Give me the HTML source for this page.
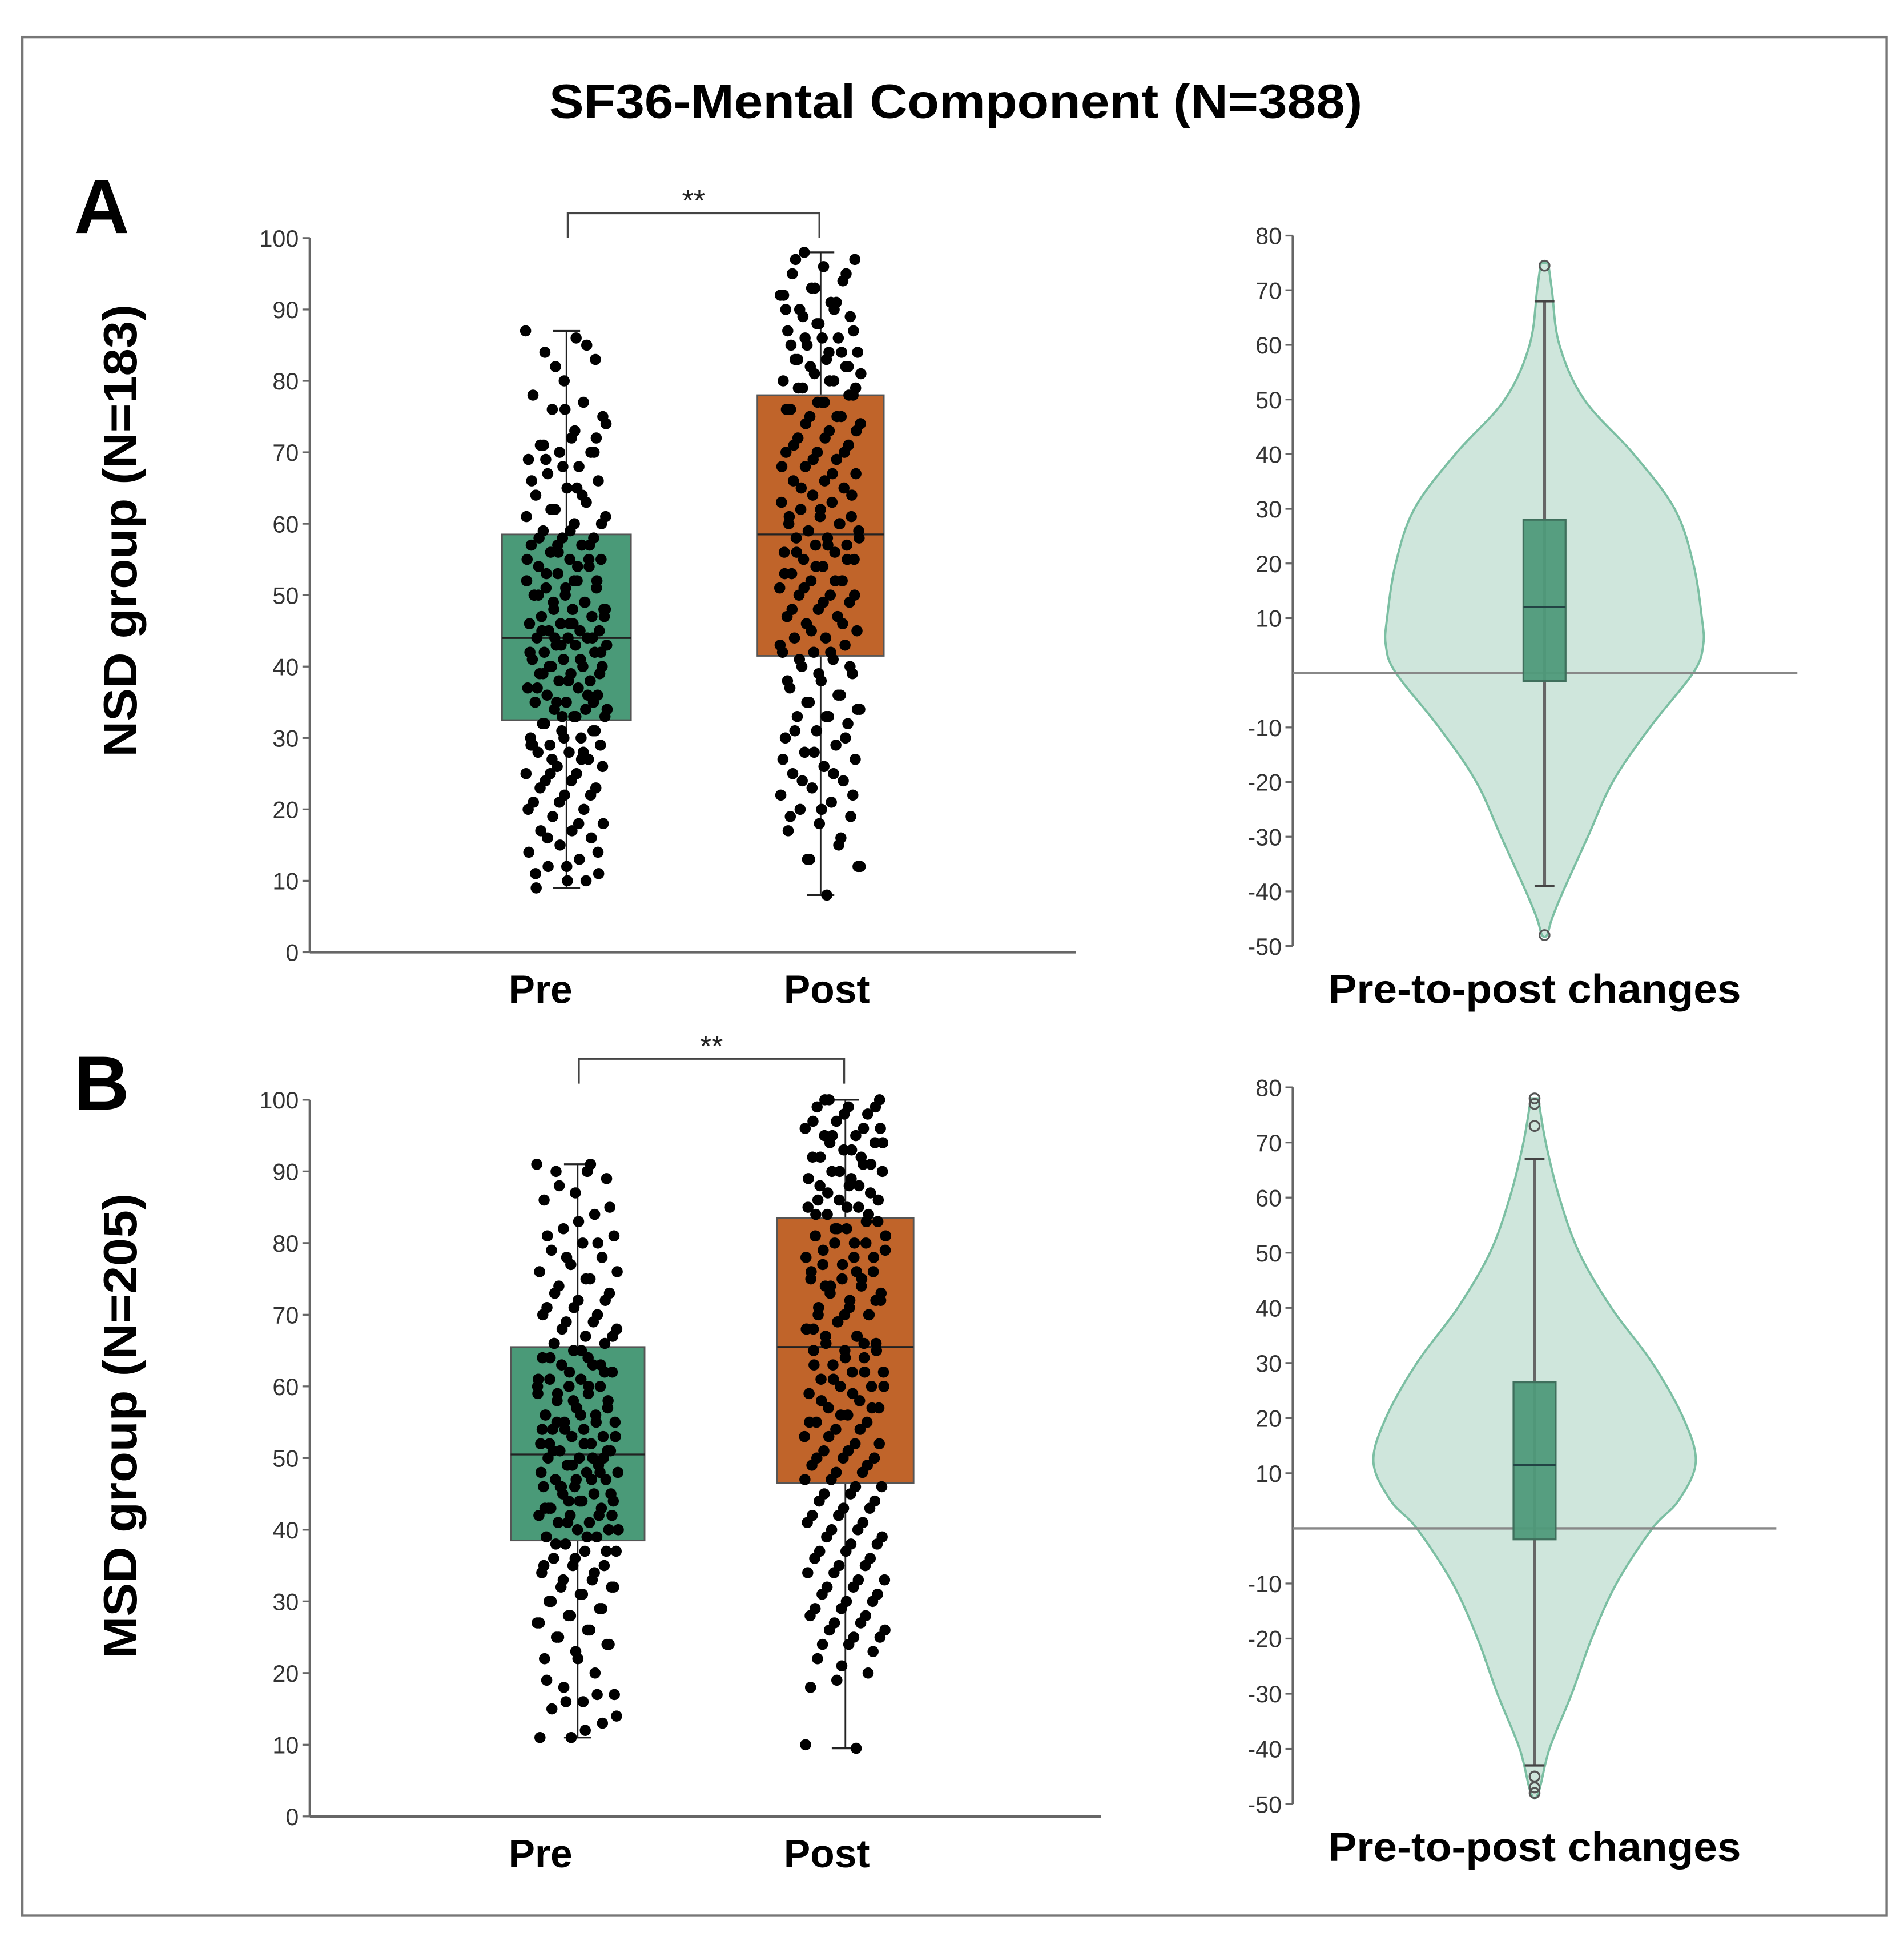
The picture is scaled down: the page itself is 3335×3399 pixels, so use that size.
<!DOCTYPE html>
<html><head><meta charset="utf-8"><style>
html,body{margin:0;padding:0;background:#fff;}
svg{display:block;}
text{font-family:"Liberation Sans",Arial,sans-serif;}
</style></head><body>
<svg id="chart" width="3335" height="3399" viewBox="0 0 1536 1565.5" xmlns="http://www.w3.org/2000/svg">
<rect x="18" y="30" width="1504" height="1515" fill="#fff" stroke="#777" stroke-width="2"/>
<text x="771" y="95" text-anchor="middle" font-size="39" font-weight="bold" textLength="656" lengthAdjust="spacingAndGlyphs">SF36-Mental Component (N=388)</text>
<text x="82" y="188" text-anchor="middle" font-size="62" font-weight="bold">A</text>
<text x="82" y="895" text-anchor="middle" font-size="62" font-weight="bold">B</text>
<g id="layer"></g>
</svg>
<script>
// ---- data ----
const boxCategories = ["Pre","Post"];
const boxTicks = [0,10,20,30,40,50,60,70,80,90,100];
const violinTicks = [-50,-40,-30,-20,-10,10,20,30,40,50,60,70,80];
// stats: [min, q1, median, q3, max]
const nsdPreStats = [9, 32.5, 44, 58.5, 87];
const nsdPostStats = [8, 41.5, 58.5, 78, 98];
const msdPreStats = [11, 38.5, 50.5, 65.5, 91];
const msdPostStats = [9.5, 46.5, 65.5, 83.5, 100];
const nsdChangeStats = [-39, -1.5, 12, 28, 68];
const msdChangeStats = [-43, -2, 11.5, 26.5, 67];
const nsdChangeOutliers = [74.5, -48];
const msdChangeOutliers = [78, 77, 73, -45, -47, -48];
const nsdDensityY = [75,70,60,50,40,30,20,10,5,0,-10,-20,-30,-40,-45,-48];
const nsdDensityW = [3,6,12,32,72,105,120,127,128,120,85,55,35,15,6,2];
const msdDensityY = [78,70,60,50,40,30,20,12,5,0,-10,-20,-30,-40,-48];
const msdDensityW = [3,9,20,36,62,95,120,130,116,95,66,46,30,12,3];
const nsdPre = [87,86,84,83,80,78,77,76,75,72,71,70,70,69,68,67,66,65,64,63,62,61,60,59,58,58,57,57,56,55,55,54,54,53,52,52,51,51,50,50,49,49,48,48,47,47,46,46,45,45,45,44,44,44,43,43,43,42,42,41,41,40,40,40,39,39,38,38,37,37,36,36,35,35,34,34,33,33,32,31,31,30,30,29,29,28,28,27,26,25,25,24,23,22,21,20,19,18,17,17,16,15,14,13,12,11,10,9,
 85,82,74,73,71,70,68,66,64,62,60,59,58,57,56,55,54,53,52,51,50,49,48,47,46,45,44,43,42,41,40,39,38,37,36,35,34,33,32,31,30,29,28,27,26,24,23,22,21,20,18,16,14,12,11,10,44,48,52,39,35,33,29,27,25,42,46,50,55,57,61,65,69,72,76];
const nsdPost = [98,97,96,95,94,93,92,91,90,89,88,87,86,85,84,83,83,82,81,80,80,79,78,77,76,75,75,74,73,72,71,70,70,69,68,67,66,66,65,64,63,63,62,61,61,60,60,59,59,58,58,57,57,56,56,55,55,54,53,52,52,51,50,50,49,48,47,47,46,45,44,44,43,42,42,41,40,39,38,37,36,35,34,33,33,32,31,30,29,28,27,26,25,24,23,22,21,20,19,18,17,15,13,12,8,
 97,95,93,92,90,89,87,86,85,84,82,81,80,79,78,77,76,75,74,73,72,71,70,69,68,67,65,64,62,61,60,59,58,57,56,55,54,53,52,51,50,49,48,46,45,43,42,41,40,39,38,36,35,34,33,31,30,28,27,25,24,22,20,19,16,13,12,84,83,82,88,90,91,86,79,77];
const msdPre = [91,90,90,89,87,86,84,82,81,80,79,78,77,76,75,74,73,72,71,70,69,68,67,66,66,65,64,63,63,62,61,61,60,60,59,59,58,57,57,56,56,55,55,54,54,53,53,52,52,51,51,50,50,49,49,48,48,47,47,46,46,45,45,44,44,43,43,42,42,41,41,40,40,39,39,38,37,37,36,35,35,34,33,32,32,31,30,29,28,27,26,25,24,23,22,20,18,17,16,15,13,11,11,
 91,88,85,83,81,80,78,76,75,73,72,71,70,69,68,67,65,64,63,62,61,60,59,58,57,56,55,54,53,52,51,50,49,48,47,46,45,44,43,42,41,40,39,38,37,36,35,34,33,32,31,30,29,28,27,26,25,24,22,19,17,16,14,12,66,62,58,54,50,46,42,56,52,48,44,60,64,55,51,47,43];
const msdPost = [100,100,99,99,98,97,96,95,95,94,93,92,91,90,90,89,88,87,86,85,85,84,83,82,81,80,80,79,78,77,76,75,75,74,73,72,71,70,70,69,68,67,67,66,65,65,64,63,62,62,61,60,60,59,58,57,57,56,55,55,54,53,52,51,50,50,49,48,47,46,45,44,43,42,41,40,39,38,37,36,35,34,33,32,31,30,29,28,27,26,25,24,22,20,19,10,9.5,
 100,99,98,97,96,95,94,93,92,91,90,89,88,87,86,85,84,83,82,81,80,79,78,77,76,75,74,73,72,71,70,69,68,67,66,65,64,63,62,61,60,59,58,57,56,55,54,53,52,51,50,49,48,47,46,45,44,43,42,41,40,39,38,37,36,35,34,33,32,31,30,29,28,27,26,25,24,23,21,18,92,94,96,88,86,84,82,78,76,74,72,70,68,66];

// ---- drawing ----
const NS = "http://www.w3.org/2000/svg";
const layer = document.getElementById('layer');
function mk(tag, attrs, parent){
  const e = document.createElementNS(NS, tag);
  for (const k in attrs) e.setAttribute(k, attrs[k]);
  (parent||layer).appendChild(e);
  return e;
}
function linScale(d0,d1,r0,r1){return v=>r0+(v-d0)*(r1-r0)/(d1-d0);}

function boxPanel(cfg){
  const y = linScale(0,100,cfg.y0,cfg.y100);
  const g = mk('g',{});
  
  
  const ax = mk('line',{x1:cfg.ax,y1:cfg.y100,x2:cfg.ax,y2:cfg.y0,stroke:'#666','stroke-width':2},g);
  
  
  const xa = mk('line',{x1:cfg.ax,y1:cfg.y0,x2:cfg.axEnd,y2:cfg.y0,stroke:'#666','stroke-width':2},g);
  
  
  boxTicks.forEach(t=>{
    mk('line',{x1:cfg.ax-6,y1:y(t),x2:cfg.ax,y2:y(t),stroke:'#666','stroke-width':1.5},g);
    const tl = mk('text',{x:cfg.ax-9,y:y(t)+7,'text-anchor':'end','font-size':19,fill:'#333'},g);
    tl.textContent = t;
    
    
  });
  const series = [[cfg.preStats,cfg.preVals,cfg.cx[0],cfg.hw[0],'#4a9a78'],[cfg.postStats,cfg.postVals,cfg.cx[1],cfg.hw[1],'#c0642a']];
  series.forEach((s,si)=>{
    const [st,vals,cx,hw,col]=s;
    mk('line',{x1:cx,y1:y(st[0]),x2:cx,y2:y(st[4]),stroke:'#222','stroke-width':1.3},g);
    mk('line',{x1:cx-11,y1:y(st[0]),x2:cx+11,y2:y(st[0]),stroke:'#222','stroke-width':1.5},g);
    mk('line',{x1:cx-11,y1:y(st[4]),x2:cx+11,y2:y(st[4]),stroke:'#222','stroke-width':1.5},g);
    const b = mk('rect',{x:cx-hw,y:y(st[3]),width:2*hw,height:y(st[1])-y(st[3]),fill:col,stroke:'#555','stroke-width':1.3},g);
    
    
    mk('line',{x1:cx-hw,y1:y(st[2]),x2:cx+hw,y2:y(st[2]),stroke:'#222','stroke-width':1.5},g);
    vals.forEach((v,i)=>{
      const off = (((i*0.618034+si*0.3)%1)-0.5)*66;
      const d = mk('circle',{cx:cx+off,cy:y(v),r:4.5,fill:'#000'},g);
      
      
    });
    const xl = mk('text',{x:cfg.labX[si],y:cfg.y0+41,'text-anchor':'middle','font-size':32,'font-weight':'bold'},g);
    xl.textContent = boxCategories[si];
    
    
  });
  const br = mk('path',{d:`M${cfg.cx[0]+1},${cfg.brY+20} V${cfg.brY} H${cfg.cx[1]-1} V${cfg.brY+20}`,fill:'none',stroke:'#444','stroke-width':1.5},g);
  
  
  const st = mk('text',{x:(cfg.cx[0]+cfg.cx[1])/2,y:cfg.brY-2,'text-anchor':'middle','font-size':24,fill:'#222'},g);
  st.textContent='**';
  
  
  const yl = mk('text',{x:0,y:0,'text-anchor':'middle','font-size':38,'font-weight':'bold',textLength:cfg.ylLen,lengthAdjust:'spacingAndGlyphs',transform:`translate(110,${cfg.ylY}) rotate(-90)`},g);
  yl.textContent = cfg.ylabel;
  
  
}

function violinPanel(cfg){
  const y = linScale(-50,80,cfg.yMin,cfg.yMax);
  const g = mk('g',{});
  
  
  const ax = mk('line',{x1:cfg.ax,y1:cfg.yMax,x2:cfg.ax,y2:cfg.yMin,stroke:'#666','stroke-width':2},g);
  
  
  violinTicks.forEach(t=>{
    mk('line',{x1:cfg.ax-6,y1:y(t),x2:cfg.ax,y2:y(t),stroke:'#666','stroke-width':1.5},g);
    const tl = mk('text',{x:cfg.ax-9,y:y(t)+7,'text-anchor':'end','font-size':19,fill:'#333'},g);
    tl.textContent = t;
    
    
  });
  const cx = cfg.cx;
  let pts = cfg.dy.map((v,i)=>[cx+cfg.dw[i],y(v)]);
  let left = cfg.dy.map((v,i)=>[cx-cfg.dw[i],y(v)]).reverse();
  const all = pts.concat(left);
  function smooth(p){
    let d=`M${p[0][0]},${p[0][1]}`;
    for(let i=0;i<p.length-1;i++){
      const p0=p[Math.max(i-1,0)],p1=p[i],p2=p[i+1],p3=p[Math.min(i+2,p.length-1)];
      d+=` C${p1[0]+(p2[0]-p0[0])/6},${p1[1]+(p2[1]-p0[1])/6} ${p2[0]-(p3[0]-p1[0])/6},${p2[1]-(p3[1]-p1[1])/6} ${p2[0]},${p2[1]}`;
    }
    return d+'Z';
  }
  const vp = mk('path',{d:smooth(all),fill:'#cfe6dc',stroke:'#7cbfa3','stroke-width':1.8},g);
  
  
  const z = mk('line',{x1:cfg.ax,y1:y(0),x2:cfg.zEnd,y2:y(0),stroke:'#888','stroke-width':2},g);
  
  
  const st = cfg.stats;
  mk('line',{x1:cx,y1:y(st[0]),x2:cx,y2:y(st[4]),stroke:'#666','stroke-width':2.5},g);
  mk('line',{x1:cx-8,y1:y(st[0]),x2:cx+8,y2:y(st[0]),stroke:'#444','stroke-width':2},g);
  mk('line',{x1:cx-8,y1:y(st[4]),x2:cx+8,y2:y(st[4]),stroke:'#444','stroke-width':2},g);
  const b = mk('rect',{x:cx-17,y:y(st[3]),width:34,height:y(st[1])-y(st[3]),fill:'#4f9a7a',stroke:'#3f6f5c','stroke-width':1.5,'fill-opacity':0.95},g);
  
  
  mk('line',{x1:cx-17,y1:y(st[2]),x2:cx+17,y2:y(st[2]),stroke:'#244','stroke-width':1.5},g);
  cfg.outliers.forEach(o=>{
    const c = mk('circle',{cx:cx,cy:y(o),r:4,fill:'none',stroke:'#555','stroke-width':1.5},g);
    
    
  });
  const xl = mk('text',{x:1238,y:cfg.yMin+46,'text-anchor':'middle','font-size':33,'font-weight':'bold',textLength:333,lengthAdjust:'spacingAndGlyphs'},g);
  xl.textContent='Pre-to-post changes';
  
  
}

boxPanel({name:'nsd-boxplot',ax:250,axEnd:868,y0:768,y100:192,cx:[457,662],hw:[52,51],labX:[436,667],
  preStats:nsdPreStats,postStats:nsdPostStats,preVals:nsdPre,postVals:nsdPost,brY:172,ylabel:'NSD group (N=183)',ylY:428,ylLen:365});
boxPanel({name:'msd-boxplot',ax:250,axEnd:888,y0:1465,y100:887,cx:[466,682],hw:[54,55],labX:[436,667],
  preStats:msdPreStats,postStats:msdPostStats,preVals:msdPre,postVals:msdPost,brY:854,ylabel:'MSD group (N=205)',ylY:1150,ylLen:375});
violinPanel({name:'nsd-violin',ax:1043,yMax:190,yMin:763,cx:1246,zEnd:1450,stats:nsdChangeStats,outliers:nsdChangeOutliers,dy:nsdDensityY,dw:nsdDensityW});
violinPanel({name:'msd-violin',ax:1043,yMax:877,yMin:1455,cx:1238,zEnd:1433,stats:msdChangeStats,outliers:msdChangeOutliers,dy:msdDensityY,dw:msdDensityW});
</script>
</body></html>
